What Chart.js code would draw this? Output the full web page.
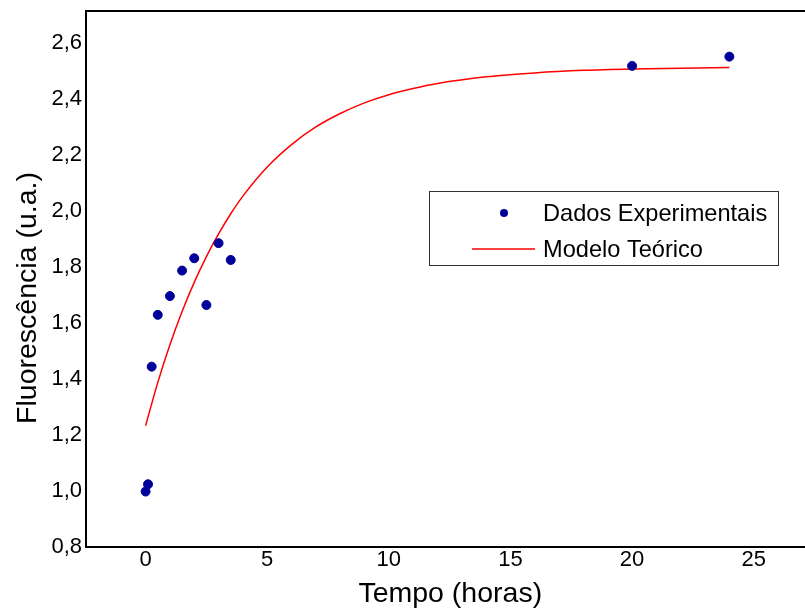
<!DOCTYPE html>
<html lang="pt">
<head>
<meta charset="utf-8">
<title>Fluorescência x Tempo</title>
<script src="https://cdn.jsdelivr.net/npm/chart.js@4/dist/chart.umd.min.js"></script>
<style>
  html, body { margin: 0; padding: 0; background: #fff; overflow: hidden; }
  canvas { display: block; }
</style>
</head>
<body>
<canvas id="grafico" width="820" height="612"></canvas>
<script>
// pontos medidos
const tempoExp = [0, 0.1, 0.25, 0.5, 1, 1.5, 2, 2.5, 3, 3.5, 20, 24];
const fluorExp = [0.998, 1.024, 1.444, 1.629, 1.696, 1.787, 1.831, 1.664, 1.885, 1.825, 2.518, 2.551];

// curva do modelo
const tempoModelo = [0, 0.5, 1, 1.5, 2, 2.5, 3, 3.5, 4, 5, 6, 7, 8, 9, 10, 11, 12, 14, 16, 18, 20, 22, 24];
const fluorModelo = [1.233, 1.387, 1.522, 1.641, 1.745, 1.837, 1.918, 1.990, 2.053, 2.157, 2.237, 2.300,
                     2.348, 2.386, 2.415, 2.437, 2.455, 2.479, 2.493, 2.502, 2.507, 2.510, 2.512];

const xTicks = [0, 5, 10, 15, 20, 25];
const yTicks = [0.8, 1.0, 1.2, 1.4, 1.6, 1.8, 2.0, 2.2, 2.4, 2.6];

const fonte = 'Liberation Sans, Arial, sans-serif';

const pontos = (xs, ys) => xs.map((x, i) => ({ x: x, y: ys[i] }));

// caixa de legenda, título do eixo y e moldura superior
const extras = {
    id: 'extras',
    afterDraw(chart) {
        const ctx = chart.ctx;
        const area = chart.chartArea;
        ctx.save();

        ctx.strokeStyle = '#000';
        ctx.lineWidth = 2;
        ctx.beginPath();
        ctx.moveTo(area.left - 1, area.top);
        ctx.lineTo(chart.width, area.top);
        ctx.stroke();

        ctx.fillStyle = '#000';
        ctx.font = '28.5px ' + fonte;
        ctx.textAlign = 'center';
        ctx.textBaseline = 'middle';
        ctx.translate(28, 298);
        ctx.rotate(-Math.PI / 2);
        ctx.fillText('Fluorescência (u.a.)', 0, 0);
        ctx.setTransform(1, 0, 0, 1, 0, 0);

        ctx.strokeStyle = '#333';
        ctx.lineWidth = 1;
        ctx.strokeRect(429.5, 191.5, 349, 74);

        const ds = chart.data.datasets;
        ctx.font = '23.6px ' + fonte;
        ctx.textAlign = 'left';
        ctx.textBaseline = 'middle';

        ctx.fillStyle = ds[0].backgroundColor;
        ctx.beginPath();
        ctx.arc(504, 213, 4, 0, Math.PI * 2);
        ctx.fill();
        ctx.fillStyle = '#000';
        ctx.fillText(ds[0].label, 543, 214);

        ctx.strokeStyle = ds[1].borderColor;
        ctx.lineWidth = 1.5;
        ctx.beginPath();
        ctx.moveTo(472, 249);
        ctx.lineTo(535, 249);
        ctx.stroke();
        ctx.fillText(ds[1].label, 543, 250);

        ctx.restore();
    }
};

const ctx = document.getElementById('grafico').getContext('2d');
new Chart(ctx, {
    type: 'scatter',
    data: {
        datasets: [{
            label: 'Dados Experimentais',
            data: pontos(tempoExp, fluorExp),
            backgroundColor: '#000099',
            borderColor: '#000099',
            pointRadius: 4.5,
            pointHoverRadius: 4.5,
            order: 1
        }, {
            label: 'Modelo Teórico',
            data: pontos(tempoModelo, fluorModelo),
            showLine: true,
            borderColor: '#ff0000',
            backgroundColor: '#ff0000',
            borderWidth: 1.5,
            pointRadius: 0,
            cubicInterpolationMode: 'monotone',
            order: 2
        }]
    },
    options: {
        responsive: false,
        animation: false,
        events: [],
        layout: { padding: { top: 11, right: 2, left: 0, bottom: 0 } },
        plugins: {
            legend: { display: false },
            tooltip: { enabled: false }
        },
        scales: {
            x: {
                type: 'linear',
                min: -2.45,
                max: 27.5,
                afterBuildTicks: scale => { scale.ticks = xTicks.map(v => ({ value: v })); },
                afterFit: scale => {
                    scale.height = 65;
                    scale.paddingLeft = 0;
                    scale.paddingRight = 0;
                },
                ticks: {
                    color: '#000',
                    font: { family: fonte, size: 22 },
                    padding: 0,
                    maxRotation: 0,
                    callback: v => String(v)
                },
                grid: { drawOnChartArea: false, drawTicks: false },
                border: { color: '#000', width: 2 },
                title: {
                    display: true,
                    text: 'Tempo (horas)',
                    color: '#000',
                    font: { family: fonte, size: 28.5 },
                    padding: { top: 0, bottom: 1 }
                }
            },
            y: {
                min: 0.8,
                max: 2.714,
                afterBuildTicks: scale => { scale.ticks = yTicks.map(v => ({ value: v })); },
                afterFit: scale => {
                    scale.width = 86;
                    scale.paddingTop = 0;
                    scale.paddingBottom = 0;
                },
                ticks: {
                    color: '#000',
                    font: { family: fonte, size: 22 },
                    padding: 4,
                    callback: v => v.toFixed(1).replace('.', ',')
                },
                grid: { drawOnChartArea: false, drawTicks: false },
                border: { color: '#000', width: 2 }
            }
        }
    },
    plugins: [extras]
});
</script>
</body>
</html>
